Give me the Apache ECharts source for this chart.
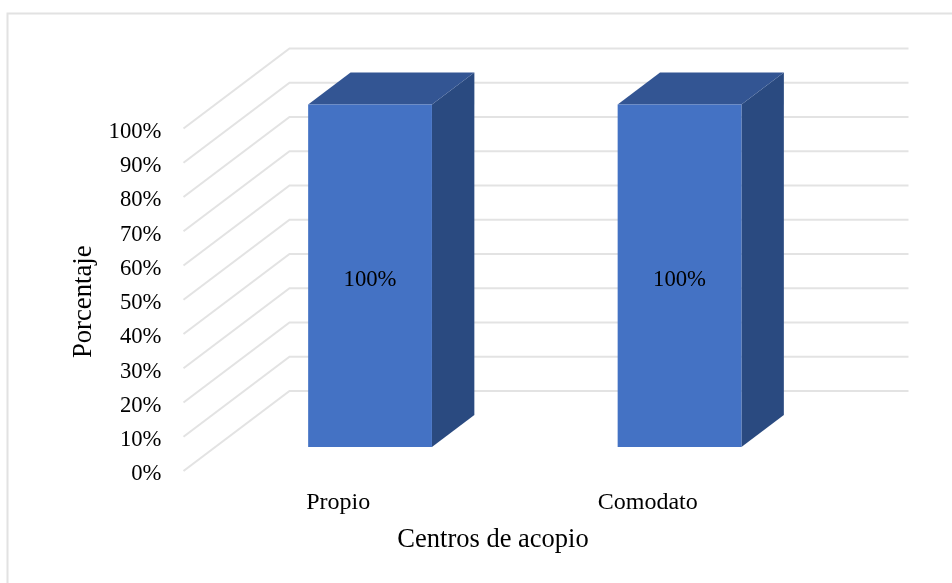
<!DOCTYPE html>
<html>
<head>
<meta charset="utf-8">
<style>html,body{margin:0;padding:0;background:#fff}#chart{width:952px;height:583px}</style>
<script src="https://cdn.jsdelivr.net/npm/echarts@6/dist/echarts.min.js"></script>
</head>
<body>
<div id="chart"></div>
<script>
// Centros de acopio por tipo de tenencia
const categories = ['Propio', 'Comodato'];
const percentages = [100, 100];
const gridTicks = [0, 10, 20, 30, 40, 50, 60, 70, 80, 90, 100];

const FONT = '"Liberation Serif", "Times New Roman", serif';
const DEPTH_X = 106, DEPTH_Y = -80;   // oblique projection of the chart's depth
const BAR_NEAR = 0.3, BAR_FAR = 0.7;  // where a bar sits along the depth
const BAR_WIDTH = 0.4;                // share of the category band

const chart = echarts.init(document.getElementById('chart'), null, {renderer: 'canvas'});

// Side wall and back wall line for one tick
function renderWall(params, api) {
  const front = api.coord([0, api.value(0)]);
  const left = params.coordSys.x;
  const y = front[1];
  return {
    type: 'polyline',
    shape: {points: [
      [left, y],
      [left + DEPTH_X, y + DEPTH_Y],
      [left + params.coordSys.width + DEPTH_X, y + DEPTH_Y]
    ]},
    style: {fill: null, stroke: '#e3e3e3', lineWidth: 2}
  };
}

// Oblique box: front face, top and right side, with the value on the front
function renderBar(params, api) {
  const idx = api.value(0), val = api.value(1);
  const top = api.coord([idx, val]);
  const base = api.coord([idx, 0]);
  const w = api.size([1, 0])[0] * BAR_WIDTH;
  const nx = DEPTH_X * BAR_NEAR, ny = DEPTH_Y * BAR_NEAR;
  const fx = DEPTH_X * (BAR_FAR - BAR_NEAR), fy = DEPTH_Y * (BAR_FAR - BAR_NEAR);
  const x0 = top[0] - w / 2 + nx, x1 = x0 + w;
  const yT = top[1] + ny, yB = base[1] + ny;
  return {
    type: 'group',
    children: [
      {type: 'polygon', shape: {points: [[x1, yT], [x1 + fx, yT + fy], [x1 + fx, yB + fy], [x1, yB]]},
        style: {fill: '#2a4a80'}},
      {type: 'polygon', shape: {points: [[x0, yT], [x0 + fx, yT + fy], [x1 + fx, yT + fy], [x1, yT]]},
        style: {fill: '#335593'}},
      {type: 'rect', shape: {x: x0, y: yT, width: w, height: yB - yT},
        style: {fill: '#4472c4'}},
      {type: 'text', x: (x0 + x1) / 2, y: (yT + yB) / 2 + 4.5,
        style: {text: val + '%', fill: '#000', font: '22.7px ' + FONT, align: 'center', verticalAlign: 'middle'}}
    ]
  };
}

chart.setOption({
  backgroundColor: '#fff',
  animation: false,
  grid: {left: 183.5, right: 149.5, top: 128.5, bottom: 112},
  xAxis: {
    type: 'category',
    data: categories,
    axisLine: {show: false},
    axisTick: {show: false},
    axisLabel: {color: '#000', fontFamily: FONT, fontSize: 24, margin: 20},
    name: 'Centros de acopio',
    nameLocation: 'middle',
    nameGap: 56,
    nameTextStyle: {color: '#000', fontFamily: FONT, fontSize: 26.5}
  },
  yAxis: {
    type: 'value',
    min: 0,
    max: 100,
    interval: 10,
    axisLine: {show: false},
    axisTick: {show: false},
    splitLine: {show: false},
    axisLabel: {color: '#000', fontFamily: FONT, fontSize: 22.7, margin: 22, verticalAlign: 'top', lineHeight: 7, formatter: '{value}%'},
    name: 'Porcentaje',
    nameLocation: 'middle',
    nameGap: 82,
    nameTextStyle: {color: '#000', fontFamily: FONT, fontSize: 26.7, padding: [0, 4, 0, 0]}
  },
  graphic: [{
    type: 'polyline',
    silent: true,
    shape: {points: [[7.5, 583], [7.5, 13.5], [952, 13.5]]},
    style: {fill: null, stroke: '#e2e2e2', lineWidth: 2}
  }],
  series: [
    {type: 'custom', renderItem: renderWall, data: gridTicks.map(t => [t]), encode: {y: 0}, silent: true, z: 1},
    {type: 'custom', renderItem: renderBar, data: percentages.map((v, i) => [i, v]), encode: {x: 0, y: 1}, z: 2}
  ]
});
</script>
</body>
</html>
